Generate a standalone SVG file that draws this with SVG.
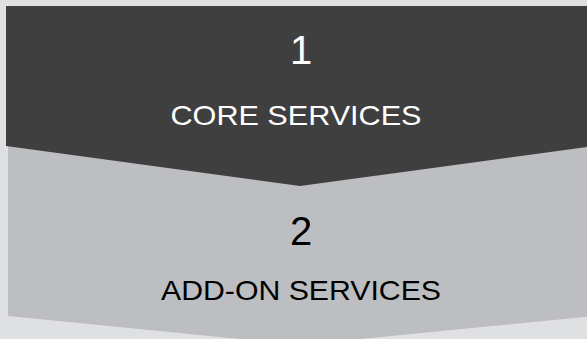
<svg xmlns="http://www.w3.org/2000/svg" width="587" height="339" viewBox="0 0 587 339">
<style>
.num{font-family:"Liberation Sans",Arial,sans-serif;font-size:40px;text-anchor:middle}
.lbl{font-family:"Liberation Sans",Arial,sans-serif;font-size:28px;text-anchor:middle}
</style>
<rect width="587" height="339" fill="#dfe0e2"/>
<g id="node2">
<polygon points="8,140 594,140 594,316 300,345 8,316" fill="#bdbec1"/>
<text class="num" x="301" y="245" fill="#000">2</text>
<text class="lbl" x="301" y="300" fill="#000" textLength="280" lengthAdjust="spacingAndGlyphs">ADD-ON SERVICES</text>
</g>
<g id="node1">
<polygon points="6,6 594,6 594,146 300,186 6,146" fill="#3f3f3f"/>
<text class="num" x="301" y="64" fill="#fff">1</text>
<text class="lbl" x="296" y="124.5" fill="#fff" textLength="251" lengthAdjust="spacingAndGlyphs">CORE SERVICES</text>
</g>
<g id="connectors"/>
</svg>
